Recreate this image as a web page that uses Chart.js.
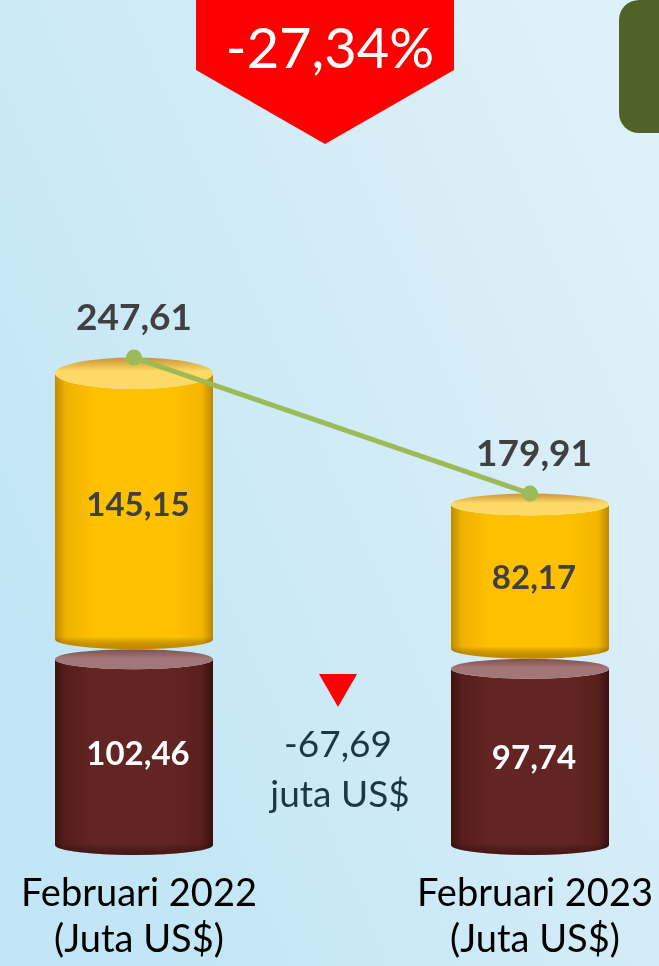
<!DOCTYPE html>
<html>
<head>
<meta charset="utf-8">
<script src="https://cdn.jsdelivr.net/npm/chart.js@4.4.0/dist/chart.umd.min.js"></script>
<style>
  html, body { margin: 0; padding: 0; background: #d2ecf6; }
  #wrap { position: relative; width: 659px; height: 966px; }
</style>
</head>
<body>
<div id="wrap"><canvas id="c"></canvas></div>
<script>
// ---- data ----
const categories = ["Februari 2022", "Februari 2023"];
const unitLabel = "(Juta US$)";
const bottomSeries = [102.46, 97.74];   // maroon segment
const topSeries = [145.15, 82.17];      // gold segment
const totals = [247.61, 179.91];        // line (total)
const changePct = "-27,34%";
const changeAbs = "-67,69";
const changeUnit = "juta US$";

const fmt = v => v.toFixed(2).replace('.', ',');
const FONT = 'Lato, "Open Sans", sans-serif';

const palettes = {
  1: { body: ['#3e1210', '#561e1c', '#632523', '#632523', '#581f1d', '#3a100e'],
       topRim: '#7d4e4e', topFace: '#a37777', bottomShade: 'rgba(30,5,5,0.45)' },
  2: { body: ['#c08a00', '#eeb300', '#ffc000', '#ffc000', '#f3b600', '#bd8700'],
       topRim: '#c99535', topFace: '#ffd966', bottomShade: 'rgba(150,90,0,0.55)' }
};

function ryAt(y) { return 10 + Math.max(0, 520 - y) * 0.035; }

function drawCylinder(ctx, x, top, base, w, pal) {
  const rx = w / 2, left = x - rx, right = x + rx;
  const ryT = ryAt(top), ryB = ryAt(base);
  const cyT = top + ryT, cyB = base - ryB;
  ctx.save();
  ctx.beginPath();
  ctx.moveTo(left, cyT);
  ctx.lineTo(left, cyB);
  ctx.ellipse(x, cyB, rx, ryB, 0, Math.PI, 0, true);
  ctx.lineTo(right, cyT);
  ctx.ellipse(x, cyT, rx, ryT, 0, 0, Math.PI, false);
  ctx.closePath();
  const g = ctx.createLinearGradient(left, 0, right, 0);
  const st = [0, 0.07, 0.25, 0.75, 0.93, 1];
  st.forEach((s, i) => g.addColorStop(s, pal.body[i]));
  ctx.fillStyle = g;
  ctx.fill();
  ctx.clip();
  const gb = ctx.createLinearGradient(0, cyB - 2, 0, base);
  gb.addColorStop(0, 'rgba(0,0,0,0)');
  gb.addColorStop(1, pal.bottomShade);
  ctx.fillStyle = gb;
  ctx.fillRect(left, cyB - 2, w, base - cyB + 4);
  ctx.restore();
  ctx.save();
  ctx.beginPath();
  ctx.ellipse(x, cyT, rx, ryT, 0, 0, Math.PI * 2);
  const gt = ctx.createLinearGradient(0, top, 0, top + 2 * ryT);
  gt.addColorStop(0, pal.topRim);
  gt.addColorStop(0.45, pal.topFace);
  gt.addColorStop(1, pal.topFace);
  ctx.fillStyle = gt;
  ctx.fill();
  ctx.restore();
}

const cylPlugin = {
  id: 'cyl',
  beforeDraw(chart) {
    const ctx = chart.ctx, W = chart.width, H = chart.height;
    ctx.save();
    const g = ctx.createLinearGradient(0, H * 0.6, W, H * 0.3);
    g.addColorStop(0, '#c2e6f5');
    g.addColorStop(1, '#def0f8');
    ctx.fillStyle = g;
    ctx.fillRect(0, 0, W, H);
    ctx.fillStyle = '#4f6228';
    ctx.beginPath();
    ctx.roundRect(619, 0, 90, 133, 20);
    ctx.fill();
    ctx.fillStyle = '#ff0000';
    ctx.beginPath();
    ctx.moveTo(196, -1); ctx.lineTo(454, -1); ctx.lineTo(454, 70);
    ctx.lineTo(325, 144); ctx.lineTo(196, 70); ctx.closePath();
    ctx.fill();
    ctx.fillStyle = '#ffffff';
    ctx.font = '56px ' + FONT;
    ctx.textAlign = 'center';
    ctx.textBaseline = 'alphabetic';
    ctx.fillText(changePct, 330, 68);
    ctx.fillStyle = '#ff0000';
    ctx.beginPath();
    ctx.moveTo(319, 674); ctx.lineTo(357, 674); ctx.lineTo(338, 707); ctx.closePath();
    ctx.fill();
    ctx.fillStyle = '#1c3646';
    ctx.font = '37px ' + FONT;
    ctx.fillText(changeAbs, 338, 757);
    ctx.fillText(changeUnit, 340, 807);
    ctx.restore();
  },
  beforeDatasetsDraw(chart) {
    const ctx = chart.ctx;
    [1, 2].forEach(di => {
      chart.getDatasetMeta(di).data.forEach(bar => {
        const p = bar.getProps(['x', 'y', 'base', 'width'], true);
        drawCylinder(ctx, p.x, p.y, p.base, p.width, palettes[di]);
      });
    });
  },
  afterDatasetsDraw(chart) {
    const ctx = chart.ctx;
    ctx.save();
    ctx.textAlign = 'center';
    ctx.textBaseline = 'middle';
    const segStyles = { 1: '#ffffff', 2: '#404040' };
    [1, 2].forEach(di => {
      const ds = chart.data.datasets[di];
      chart.getDatasetMeta(di).data.forEach((bar, i) => {
        const p = bar.getProps(['x', 'y', 'base'], true);
        ctx.fillStyle = segStyles[di];
        ctx.font = 'bold 33px ' + FONT;
        ctx.fillText(fmt(ds.data[i]), p.x + 4, (p.y + p.base) / 2 + 2);
      });
    });
    ctx.textBaseline = 'alphabetic';
    ctx.fillStyle = '#404040';
    ctx.font = 'bold 37px ' + FONT;
    chart.getDatasetMeta(0).data.forEach((pt, i) => {
      ctx.fillText(fmt(totals[i]), pt.x + (i ? 4 : 0), pt.y - 28);
    });
    ctx.restore();
  }
};

const yMax = 421.6;
new Chart(document.getElementById('c'), {
  type: 'bar',
  data: {
    labels: categories.map(c => [c, unitLabel]),
    datasets: [
      { type: 'line', label: 'Total', data: totals, borderColor: '#9bbb59', backgroundColor: '#9bbb59',
        borderWidth: 5, pointRadius: 8, pointHoverRadius: 8, pointBorderWidth: 0, tension: 0, fill: false },
      { label: 'Bottom', data: bottomSeries, backgroundColor: 'rgba(0,0,0,0)', barThickness: 158 },
      { label: 'Top', data: topSeries, backgroundColor: 'rgba(0,0,0,0)', barThickness: 158 }
    ]
  },
  options: {
    responsive: true,
    maintainAspectRatio: false,
    animation: false,
    events: [],
    layout: { padding: { left: 134, right: 129, top: 0, bottom: 0 } },
    plugins: { legend: { display: false }, tooltip: { enabled: false } },
    scales: {
      x: {
        stacked: true,
        offset: false,
        grid: { display: false },
        border: { display: false },
        ticks: { color: '#000000', font: { family: FONT, size: 38, lineHeight: 1.2 }, padding: 8,
                 labelOffset: 5, maxRotation: 0, autoSkip: false },
        afterFit(scale) { scale.height = 111; }
      },
      y: { stacked: true, display: false, min: 0, max: yMax }
    }
  },
  plugins: [cylPlugin]
});
</script>
</body>
</html>
